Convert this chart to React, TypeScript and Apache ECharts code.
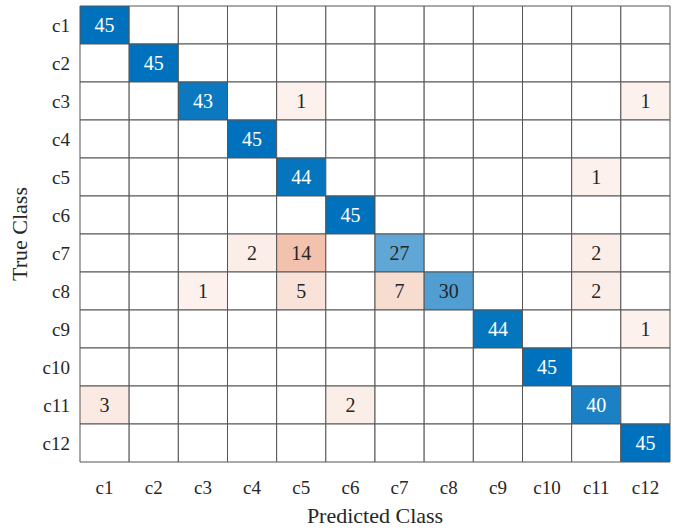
import React, { useEffect, useRef } from "react";
import * as echarts from "echarts";

const classes = ["c1", "c2", "c3", "c4", "c5", "c6", "c7", "c8", "c9", "c10", "c11", "c12"];
const rowC1 = [45, 0, 0, 0, 0, 0, 0, 0, 0, 0, 0, 0];
const rowC2 = [0, 45, 0, 0, 0, 0, 0, 0, 0, 0, 0, 0];
const rowC3 = [0, 0, 43, 0, 1, 0, 0, 0, 0, 0, 0, 1];
const rowC4 = [0, 0, 0, 45, 0, 0, 0, 0, 0, 0, 0, 0];
const rowC5 = [0, 0, 0, 0, 44, 0, 0, 0, 0, 0, 1, 0];
const rowC6 = [0, 0, 0, 0, 0, 45, 0, 0, 0, 0, 0, 0];
const rowC7 = [0, 0, 0, 2, 14, 0, 27, 0, 0, 0, 2, 0];
const rowC8 = [0, 0, 1, 0, 5, 0, 7, 30, 0, 0, 2, 0];
const rowC9 = [0, 0, 0, 0, 0, 0, 0, 0, 44, 0, 0, 1];
const rowC10 = [0, 0, 0, 0, 0, 0, 0, 0, 0, 45, 0, 0];
const rowC11 = [3, 0, 0, 0, 0, 2, 0, 0, 0, 0, 40, 0];
const rowC12 = [0, 0, 0, 0, 0, 0, 0, 0, 0, 0, 0, 45];
const matrix = [rowC1, rowC2, rowC3, rowC4, rowC5, rowC6, rowC7, rowC8, rowC9, rowC10, rowC11, rowC12];

const FONT = "'Liberation Serif', 'Times New Roman', serif";
const TXT = "#262626";

function mix(v: number, diag: boolean) {
  const a = Math.min(1, 0.06 + 0.0209 * v);
  const base = diag ? [0, 114, 189] : [217, 83, 25];
  const c = base.map((b) => Math.round(255 * (1 - a) + b * a));
  return { color: `rgb(${c[0]},${c[1]},${c[2]})`, a };
}

export default function App() {
  const ref = useRef<HTMLDivElement>(null);
  useEffect(() => {
    document.body.style.margin = "0";
    const chart = echarts.init(ref.current!, null, { renderer: "svg" });
    const data: number[][] = [];
    matrix.forEach((row, r) => {
      row.forEach((v, c) => {
        data.push([c, r, v]);
      });
    });
    chart.setOption({
      animation: false,
      grid: { left: 80, top: 6, width: 590, height: 465 },
      xAxis: {
        type: "category",
        data: classes,
        name: "Predicted Class",
        nameLocation: "middle",
        nameGap: 42,
        nameTextStyle: { fontFamily: FONT, fontSize: 22, color: TXT },
        axisLine: { show: false },
        axisTick: { show: false },
        splitArea: { show: false },
        splitLine: { show: false },
        axisLabel: { fontFamily: FONT, fontSize: 19, color: TXT, margin: 16 },
      },
      yAxis: {
        type: "category",
        data: classes,
        inverse: true,
        name: "True Class",
        nameLocation: "middle",
        nameGap: 50,
        nameTextStyle: { fontFamily: FONT, fontSize: 22, color: TXT },
        axisLine: { show: false },
        axisTick: { show: false },
        splitArea: { show: false },
        splitLine: { show: false },
        axisLabel: { fontFamily: FONT, fontSize: 19, color: TXT, margin: 10 },
      },
      series: [
        {
          type: "custom",
          data,
          encode: { x: 0, y: 1 },
          renderItem: (params: any, api: any) => {
            const c = api.value(0);
            const r = api.value(1);
            const v = api.value(2);
            const center = api.coord([c, r]);
            const size = api.size([1, 1]);
            const w = size[0];
            const h = size[1];
            const diag = c === r;
            const { color, a } = v > 0 ? mix(v, diag) : { color: "#ffffff", a: 0 };
            const children: any[] = [
              {
                type: "rect",
                shape: { x: center[0] - w / 2, y: center[1] - h / 2, width: w, height: h },
                style: { fill: color, stroke: "#555555", lineWidth: 1 },
              },
            ];
            if (v > 0) {
              children.push({
                type: "text",
                x: center[0],
                y: center[1],
                style: {
                  text: String(v),
                  fill: diag && a > 0.8 ? "#ffffff" : TXT,
                  font: `20px ${FONT}`,
                  align: "center",
                  verticalAlign: "middle",
                },
              });
            }
            return { type: "group", children };
          },
        },
      ],
    });
    return () => chart.dispose();
  }, []);
  return <div ref={ref} style={{ width: 680, height: 531 }} />;
}
